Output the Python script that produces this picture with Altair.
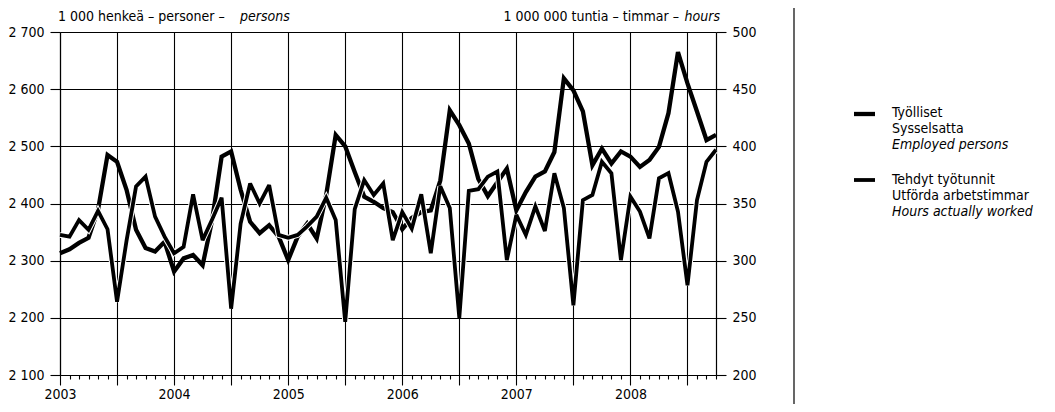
import altair as alt
import pandas as pd

# Monthly data, Jan 2003 - Oct 2008
start_year = 2003
n_months = 70

# Employed persons, 1 000 persons (left axis)
employed = [
    2313, 2320, 2331, 2340, 2389, 2485, 2473, 2424, 2354, 2322, 2316, 2333,
    2281, 2304, 2310, 2292, 2371, 2482, 2491, 2424, 2368, 2348, 2362, 2342,
    2301, 2342, 2365, 2339, 2415, 2520, 2500, 2455, 2412, 2403, 2392, 2385,
    2355, 2375, 2385, 2388, 2440, 2563, 2537, 2505, 2443, 2413, 2437, 2461,
    2388, 2420, 2447, 2456, 2490, 2619, 2598, 2561, 2467, 2496, 2470, 2491,
    2482, 2464, 2476, 2499, 2558, 2665, 2610, 2561, 2511, 2520,
]

# Hours actually worked, 1 000 000 hours (right axis)
hours = [
    322.5, 321, 335.5, 327, 343.5, 327.5, 264, 317.5, 365, 373.5, 338.5, 321,
    306.5, 312, 358, 318, 336, 355, 258, 332.5, 367.5, 350, 366, 322.5,
    320, 322.5, 330, 338.5, 355, 335.5, 246.5, 345, 370.5, 357.5, 367.5, 318,
    342.5, 328, 358, 306.5, 365, 346, 250, 361, 362.5, 373.5, 378, 300.5,
    340, 322.5, 347.5, 326, 376.5, 346, 261, 353, 357.5, 386.5, 376.5, 300.5,
    356, 343, 319.5, 372, 376.5, 343, 278.5, 353, 386.5, 397,
]

left_ticks = [2100, 2200, 2300, 2400, 2500, 2600, 2700]
right_ticks = [200, 250, 300, 350, 400, 450, 500]

left_title = "1 000 henkeä – personer –"
left_title_it = "persons"
right_title = "1 000 000 tuntia – timmar –"
right_title_it = "hours"
legend_emp = ["Työlliset", "Sysselsatta", "Employed persons"]
legend_hrs = ["Tehdyt työtunnit", "Utförda arbetstimmar", "Hours actually worked"]

t_values = [start_year + i / 12 for i in range(n_months)]
df = pd.DataFrame({"t": t_values, "employed": employed, "hours": hours})

FONT = "DejaVu Sans Condensed, Roboto, sans-serif"
W, H = 656, 343

is_year = "abs(datum.value - round(datum.value)) < 0.01"
is_half = "abs(datum.value*2 - round(datum.value*2)) < 0.01"

x_enc = alt.X(
    "t:Q",
    scale=alt.Scale(domain=[t_values[0], t_values[-1]], nice=False, zero=False),
    axis=alt.Axis(
        values=t_values,
        labelExpr=f"{is_year} ? format(round(datum.value), 'd') : ''",
        tickSize={"condition": {"test": is_half, "value": 10}, "value": 4},
        grid=True,
        gridOpacity={"condition": {"test": is_half, "value": 1}, "value": 0},
        gridColor="black",
        gridWidth=1.1,
        labelFlush=False,
        labelPadding=2,
        labelOverlap=False,
        title=None,
    ),
)

emp_line = alt.Chart(df).mark_line(color="black", strokeWidth=4.3, strokeJoin="miter", strokeMiterLimit=3).encode(
    x=x_enc,
    y=alt.Y(
        "employed:Q",
        scale=alt.Scale(domain=[2100, 2700], nice=False, zero=False),
        axis=alt.Axis(
            values=left_ticks,
            labelExpr="replace(format(datum.value, ','), ',', ' ')",
            grid=True,
            gridColor="black",
            gridWidth=1.1,
            tickSize=10,
            labelPadding=6,
            title=None,
        ),
    ),
)

hrs_y = alt.Y(
    "hours:Q",
    scale=alt.Scale(domain=[200, 500], nice=False, zero=False),
    axis=alt.Axis(
        orient="right",
        values=right_ticks,
        grid=False,
        tickSize=10,
        labelPadding=6,
        title=None,
    ),
)
hrs_casing = alt.Chart(df).mark_line(color="white", strokeWidth=5.8, strokeJoin="miter", strokeMiterLimit=3).encode(
    x=x_enc, y=hrs_y
)
hrs_line = alt.Chart(df).mark_line(color="black", strokeWidth=3.8, strokeJoin="miter", strokeMiterLimit=3).encode(
    x=x_enc, y=hrs_y
)
hrs_group = alt.layer(hrs_casing, hrs_line)

one = pd.DataFrame({"k": [0]})


def txt(s, x, y, align="left", style="normal", size=14, baseline="middle"):
    return alt.Chart(one).mark_text(
        align=align, baseline=baseline, font=FONT, fontSize=size, fontStyle=style, color="black"
    ).encode(x=alt.value(x), y=alt.value(y), text=alt.value(s))


texts = [
    txt(left_title, -2, -15),
    txt(left_title_it, 180, -15, style="italic"),
    txt(right_title, 619, -15, align="right"),
    txt(right_title_it, 660, -15, align="right", style="italic"),
]

leg_x = 832
for i, s in enumerate(legend_emp):
    texts.append(txt(s, leg_x, 81 + 16 * i, style="italic" if i == 2 else "normal"))
for i, s in enumerate(legend_hrs):
    texts.append(txt(s, leg_x, 148 + 16 * i, style="italic" if i == 2 else "normal"))

dash1 = alt.Chart(one).mark_rule(color="black", strokeWidth=4.3).encode(
    x=alt.value(794), x2=alt.value(815), y=alt.value(82)
)
dash2 = alt.Chart(one).mark_rule(color="black", strokeWidth=3.8).encode(
    x=alt.value(794), x2=alt.value(815), y=alt.value(148)
)
separator = alt.Chart(one).mark_rule(color="black", strokeWidth=1.2).encode(
    x=alt.value(734), y=alt.value(-24), y2=alt.value(372)
)

chart = (
    alt.layer(emp_line, hrs_group, separator, dash1, dash2, *texts)
    .resolve_scale(y="independent")
    .properties(
        width=W,
        height=H,
        autosize=alt.AutoSizeParams(type="none"),
        padding={"left": 52, "top": 24, "right": 331, "bottom": 29},
    )
    .configure_axis(
        labelFont=FONT,
        labelFontSize=14,
        labelColor="black",
        domainColor="black",
        domainWidth=1.2,
        tickColor="black",
        tickWidth=1.1,
    )
    .configure_view(stroke=None)
)

chart.save("out.html", embed_options={"renderer": "svg", "actions": False})
